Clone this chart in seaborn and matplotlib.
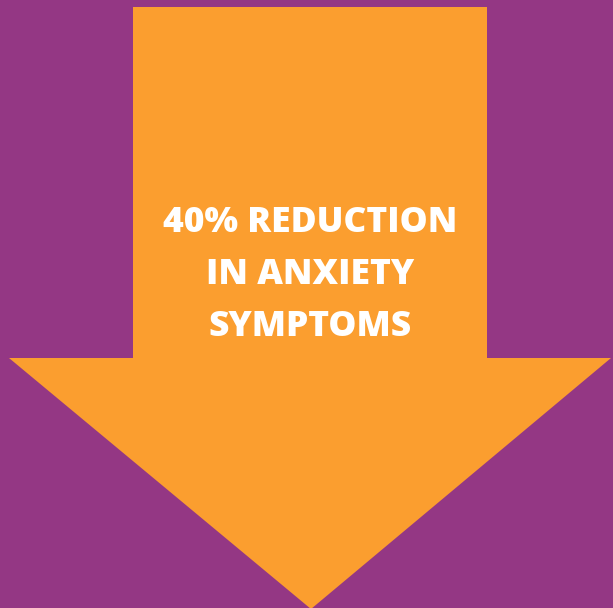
import matplotlib
matplotlib.use("Agg")
import matplotlib.pyplot as plt
import seaborn as sns
from matplotlib.patches import Polygon

# --- data ---
reduction_pct = 40
outcome = "ANXIETY SYMPTOMS"
label_lines = [f"{reduction_pct}% REDUCTION", "IN ANXIETY", "SYMPTOMS"]

# --- colours ---
PURPLE = "#943784"
ORANGE = "#FB9E2F"

sns.set_theme(style="white")
plt.rcParams["font.family"] = ["Open Sans", "DejaVu Sans"]

fig = plt.figure(figsize=(6.13, 6.08), dpi=100, facecolor=PURPLE)
ax = fig.add_axes([0, 0, 1, 1])
ax.set_facecolor(PURPLE)
ax.set_xlim(0, 613)
ax.set_ylim(608, 0)
ax.axis("off")

# arrow outline (canvas pixels)
shaft_l, shaft_r, shaft_top, head_y = 133, 487, 7, 358
head_l, head_r, tip_x, tip_y = 9, 611, 311, 609
arrow = Polygon([(shaft_l, shaft_top), (shaft_r, shaft_top), (shaft_r, head_y),
                 (head_r, head_y), (tip_x, tip_y), (head_l, head_y),
                 (shaft_l, head_y)], closed=True, facecolor=ORANGE, edgecolor="none")
ax.add_patch(arrow)

for i, line in enumerate(label_lines):
    ax.text(310, 223 + i * 52, line, ha="center", va="center", color="white",
            fontsize=25.5, fontweight=800)

fig.savefig("out.png", dpi=100, facecolor=PURPLE)
